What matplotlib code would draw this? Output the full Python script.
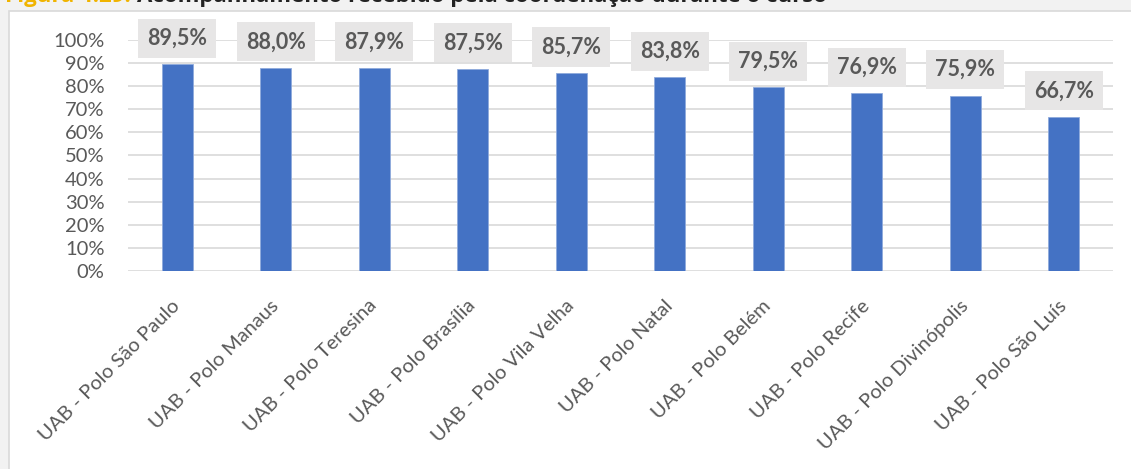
import matplotlib
matplotlib.use('Agg')
import matplotlib.pyplot as plt
from matplotlib.patches import Rectangle

plt.rcParams['font.family'] = ['Lato', 'DejaVu Sans']

# dados
polos = ['UAB - Polo São Paulo', 'UAB - Polo Manaus', 'UAB - Polo Teresina',
         'UAB - Polo Brasília', 'UAB - Polo Vila Velha', 'UAB - Polo Natal',
         'UAB - Polo Belém', 'UAB - Polo Recife', 'UAB - Polo Divinópolis',
         'UAB - Polo São Luís']
valores = [89.5, 88.0, 87.9, 87.5, 85.7, 83.8, 79.5, 76.9, 75.9, 66.7]
yticks = [0, 10, 20, 30, 40, 50, 60, 70, 80, 90, 100]

cinza = '#595959'
W, H = 1131, 469
fig = plt.figure(figsize=(W/100, H/100), dpi=100, facecolor='#f2f2f2')

# fundo branco do grafico
fig.patches.append(Rectangle((9/W, -0.1), 1.1, 1.1 - 11/H, transform=fig.transFigure,
                             facecolor='white', edgecolor='#d9d9d9', lw=1.2, zorder=-5))

# legenda da figura (cortada no topo)
t1 = fig.text(5/W, 1 - 2/H, 'Figura 4.29:', color='#f0b400', fontsize=16,
              fontweight='bold', va='baseline', ha='left', family='Open Sans')
fig.canvas.draw()
bb = t1.get_window_extent()
fig.text(bb.x1/W + 6/W, 1 - 2/H, 'Acompanhamento recebido pela coordenação durante o curso',
         color='#222222', fontsize=16, fontweight='bold', va='baseline', ha='left',
         family='Open Sans')

ax = fig.add_axes([128/W, 1 - 271/H, 985/W, 231/H])
ax.set_facecolor('white')
x = list(range(len(polos)))
ax.bar(x, valores, width=0.315, color='#4472c4', edgecolor='#8faadc', linewidth=0.6, zorder=3)

for xi, v in zip(x, valores):
    ax.annotate(f'{v:.1f}%'.replace('.', ','), (xi, v), xytext=(0, 26),
                textcoords='offset pixels', ha='center', va='center',
                fontsize=15.5, fontweight='bold', color=cinza, zorder=5,
                bbox=dict(boxstyle='square,pad=0.42', fc='#e7e6e6', ec='none'))

ax.set_xlim(-0.5, len(polos) - 0.5)
ax.set_ylim(0, 100)
ax.set_yticks(yticks)
ax.set_yticklabels([f'{v}%' for v in yticks])
ax.set_xticks(x)
ax.set_xticklabels(polos, rotation=45, ha='right', rotation_mode='anchor', va='center')
ax.tick_params(axis='y', length=0, pad=17, labelsize=14.5, labelcolor=cinza)
ax.tick_params(axis='x', length=0, pad=23, labelsize=14.5, labelcolor=cinza)
ax.yaxis.grid(True, color='#d9d9d9', lw=1.2, zorder=0)
for s in ax.spines.values():
    s.set_visible(False)
ax.set_axisbelow(True)

fig.savefig('out.png', dpi=100, facecolor=fig.get_facecolor())
